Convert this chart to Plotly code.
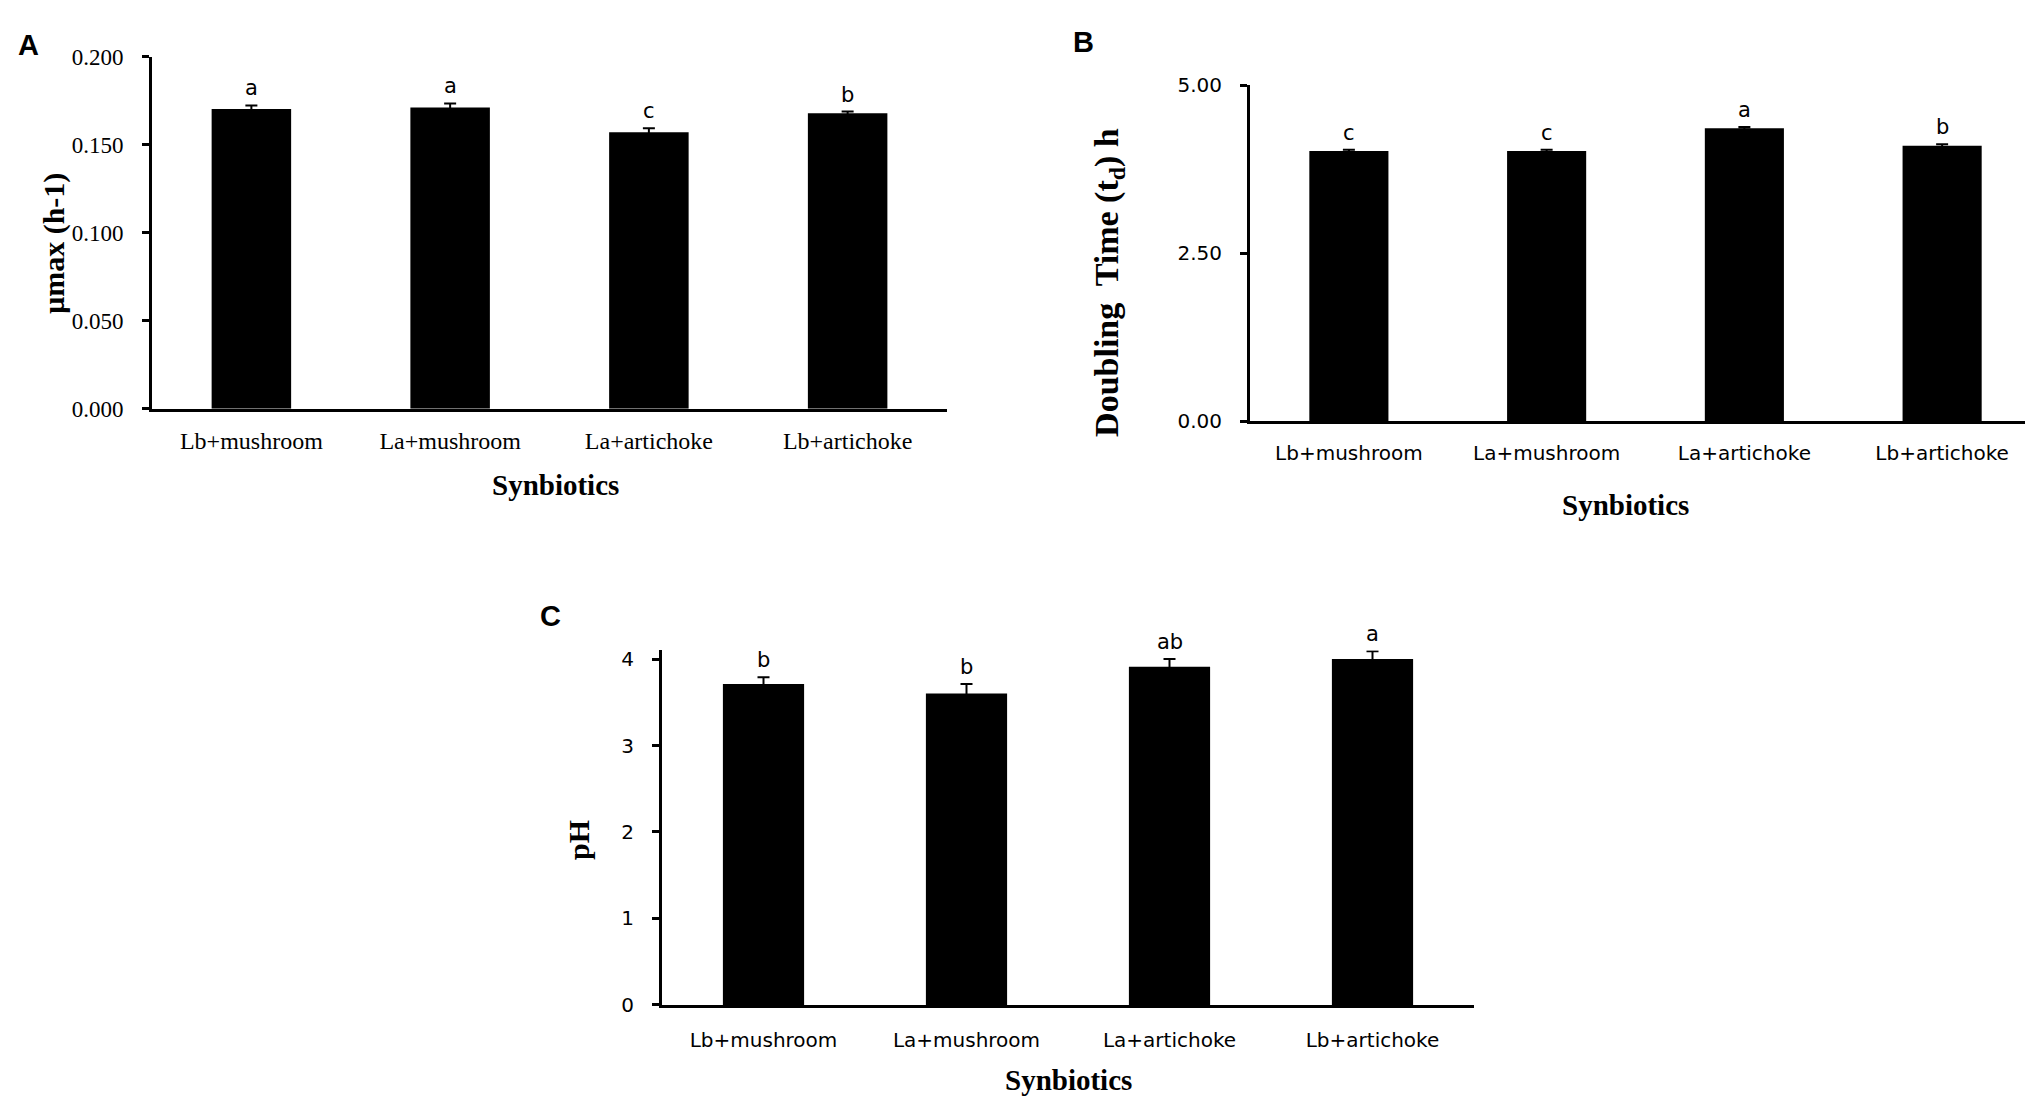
import plotly.graph_objects as go

W, H = 2033, 1104

# Data
categories = ['Lb+mushroom', 'La+mushroom', 'La+artichoke', 'Lb+artichoke']

umax_values = [0.1704, 0.1712, 0.1571, 0.1679]
umax_errors = [0.0020, 0.0023, 0.0023, 0.0010]
umax_letters = ['a', 'a', 'c', 'b']

doubling_values = [4.02, 4.02, 4.36, 4.10]
doubling_errors = [0.02, 0.02, 0.02, 0.02]
doubling_letters = ['c', 'c', 'a', 'b']

ph_values = [3.71, 3.60, 3.91, 4.00]
ph_errors = [0.08, 0.11, 0.09, 0.09]
ph_letters = ['b', 'b', 'ab', 'a']

umax_ticks = [0.0, 0.05, 0.10, 0.15, 0.20]
doubling_ticks = [0.0, 2.5, 5.0]
ph_ticks = [0, 1, 2, 3, 4]

SERIF = 'Liberation Serif, Times New Roman, serif'
SANS = 'DejaVu Sans, Verdana, sans-serif'
ARIAL = 'Liberation Sans, Arial, sans-serif'


def px(x):
    return x / W


def py(y):
    return 1 - y / H


def bars(xa, ya, values, errors):
    return go.Bar(
        x=categories, y=values,
        xaxis=xa, yaxis=ya,
        width=0.4,
        marker={'color': 'black', 'line': {'width': 0}},
        error_y={'type': 'data', 'array': errors, 'visible': True,
                 'color': 'black', 'thickness': 2, 'width': 6},
        showlegend=False,
    )


fig = go.Figure([
    bars('x', 'y', umax_values, umax_errors),
    bars('x2', 'y2', doubling_values, doubling_errors),
    bars('x3', 'y3', ph_values, ph_errors),
])

xbase = dict(showline=True, linecolor='black', linewidth=3, ticks='',
             showgrid=False, zeroline=False, fixedrange=True)
ybase = dict(showline=True, linecolor='black', linewidth=3, ticks='outside',
             ticklen=7, tickwidth=2.5, tickcolor='black', showgrid=False,
             zeroline=False, ticklabelstandoff=14)

fig.update_layout(
    width=W, height=H,
    margin={'l': 0, 'r': 0, 't': 0, 'b': 0},
    paper_bgcolor='white', plot_bgcolor='white',
    bargap=0.6,
    xaxis=dict(xbase, domain=[px(144), px(939)], anchor='y',
               tickfont={'family': SERIF, 'size': 24, 'color': 'black'},
               ticklabelstandoff=9),
    yaxis=dict(ybase, domain=[py(397.7), py(37.7)], anchor='x',
               range=[0, 0.2], tickvals=umax_ticks, tickformat='.3f',
               tickfont={'family': SERIF, 'size': 23, 'color': 'black'}),
    xaxis2=dict(xbase, domain=[px(1242), px(2033)], anchor='y2',
                tickfont={'family': SANS, 'size': 20, 'color': 'black'},
                ticklabelstandoff=12),
    yaxis2=dict(ybase, domain=[py(410.7), py(66.7)], anchor='x2',
                range=[0, 5], tickvals=doubling_ticks, tickformat='.2f',
                tickfont={'family': SANS, 'size': 20, 'color': 'black'}),
    xaxis3=dict(xbase, domain=[px(654), px(1466)], anchor='y3',
                tickfont={'family': SANS, 'size': 20, 'color': 'black'},
                ticklabelstandoff=15),
    yaxis3=dict(ybase, domain=[py(1007.7), py(645)], anchor='x3',
                range=[0, 4.1], tickvals=ph_ticks, tickformat='d',
                tickfont={'family': SANS, 'size': 20, 'color': 'black'}),
)

annotations = []

# significance letters above the error bars
for xr, yr, vals, errs, letters in [
    ('x', 'y', umax_values, umax_errors, umax_letters),
    ('x2', 'y2', doubling_values, doubling_errors, doubling_letters),
    ('x3', 'y3', ph_values, ph_errors, ph_letters),
]:
    for cat, v, e, t in zip(categories, vals, errs, letters):
        annotations.append(dict(
            x=cat, y=v + e, xref=xr, yref=yr, text=t, showarrow=False,
            yanchor='bottom', yshift=3,
            font={'family': SANS, 'size': 21, 'color': 'black'},
        ))

# panel letters
for label, x, y in [('A', 8, 7), ('B', 1063, 4), ('C', 530, 591)]:
    annotations.append(dict(
        x=px(x), y=py(y), xref='paper', yref='paper', text='<b>%s</b>' % label,
        showarrow=False, xanchor='left', yanchor='top',
        font={'family': ARIAL, 'size': 29, 'color': 'black'},
    ))

# axis titles
titles = [
    ('μmax (h-1)', 46, 229, -90, 30),
    ('Doubling  Time (t<sub>d</sub>) h', 1101, 269, -90, 34),
    ('pH', 570, 839, -90, 30),
    ('Synbiotics', 547, 476, 0, 29),
    ('Synbiotics', 1617, 496, 0, 29),
    ('Synbiotics', 1060, 1085, 0, 29),
]
for text, x, y, angle, size in titles:
    annotations.append(dict(
        x=px(x), y=py(y), xref='paper', yref='paper', text='<b>%s</b>' % text,
        showarrow=False, xanchor='center', yanchor='middle', textangle=angle,
        font={'family': SERIF, 'size': size, 'color': 'black'},
    ))

fig.update_layout(annotations=annotations)

fig.write_html('out.html')
